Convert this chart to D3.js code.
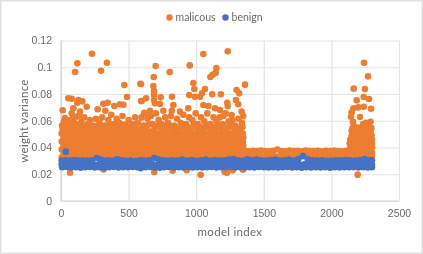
<!DOCTYPE html>
<html>
<head>
<meta charset="utf-8">
<script src="https://cdn.jsdelivr.net/npm/d3@7"></script>
<style>
  html, body { margin: 0; padding: 0; background: #fff; }
  svg { display: block; font-family: Lato, 'Open Sans', sans-serif; filter: blur(0.3px); }
</style>
</head>
<body>
<div id="chart"></div>
<script>
const xTicks = [0, 500, 1000, 1500, 2000, 2500];
const yTicks = [0, 0.02, 0.04, 0.06, 0.08, 0.1, 0.12];
const seriesNames = ["malicous", "benign"];
const seriesColors = ["#ed7d31", "#4472c4"];

// isolated malicious points read one by one
const maliciousUpper = [
  [229,.1101],[121,.1029],[104,.0964],[340,.1034],[296,.0974],[468,.0867],[587,.0877],[488,.0778],
  [592,.0748],[13,.0678],[54,.0768],[79,.0765],[128,.0755],[158,.0745],[120,.0735],[190,.0705],
  [271,.0686],[313,.0727],[345,.0735],[394,.071],[436,.0723],[461,.072],[328,.0675],[616,.066],
  [91,.0693],[79,.0656],[141,.0668],[116,.063],[30,.062],[1053,.1099],[1233,.1119],[700,.1009],
  [952,.1014],[804,.0964],[686,.0927],[1149,.0994],[1144,.0959],[1105,.0927],[1122,.0944],[592,.0875],
  [683,.086],[688,.0822],[979,.0882],[986,.0837],[1065,.0837],[1361,.087],[1299,.083],[1318,.0805],
  [949,.0792],[991,.078],[1028,.078],[1043,.0805],[1119,.0798],[1183,.0798],[821,.078],[597,.0748],
  [629,.0768],[688,.0793],[688,.0755],[695,.073],[737,.0775],[732,.0725],[757,.0675],[831,.0718],
  [819,.0675],[1053,.0718],[1090,.071],[1139,.0693],[1176,.068],[1230,.0735],[1233,.071],[1294,.0755],
  [1311,.0723],[1200,.0635],[1262,.0643],[1336,.0668],[1348,.0635],[941,.0693],[880,.0668],[658,.0675],
  [621,.0656]
];

// the loose part of the cloud just above the solid band
const maliciousMid = [
  [8,.0565],[22,.0595],[45,.0605],[60,.0575],[84,.0615],[98,.0585],[132,.0635],[150,.059],[172,.0625],
  [196,.0575],[214,.0605],[238,.0565],[258,.0615],[285,.0585],[305,.0625],[322,.0565],[350,.0605],[372,.0645],
  [388,.0575],[412,.0615],[430,.0585],[455,.0635],[478,.0565],[500,.0605],[526,.0575],[548,.0625],[570,.0585],
  [596,.0625],[612,.0565],[640,.0615],[665,.0635],[678,.0575],[702,.0655],[722,.0605],[745,.0575],[770,.0625],
  [792,.0585],[812,.0635],[838,.0565],[858,.0615],[885,.0585],[905,.0645],[925,.0575],[948,.0625],[972,.0605],
  [996,.0655],[1012,.0575],[1036,.0625],[1060,.0595],[1082,.0655],[1104,.0575],[1128,.0625],[1150,.0595],
  [1172,.0625],[1195,.0575],[1218,.0655],[1240,.0595],[1268,.0605],[1290,.0565],[1312,.0615],[1338,.0585],
  [12,.0535],[36,.0545],[70,.0535],[110,.0545],[142,.0535],[180,.0545],[225,.0535],[270,.0545],[300,.0535],
  [338,.0545],[400,.0535],[440,.0545],[490,.0535],[535,.0545],[585,.0535],[630,.0545],[690,.0535],[735,.0545],
  [780,.0535],[825,.0545],[870,.0535],[915,.0545],[960,.0535],[1005,.0545],[1050,.0535],[1095,.0545],[1140,.0535],
  [1185,.0545],[1230,.0535],[1275,.0545],[1325,.0535],
  [28,.0555],[52,.0552],[76,.0562],[92,.0548],[125,.0572],[160,.0558],[200,.0548],[248,.0552],[276,.0566],[312,.0548],
  [358,.0568],[378,.0545],[418,.0558],[462,.0572],[510,.0552],[552,.0568],[604,.0548],[650,.0572],[712,.0562],[758,.0552],
  [802,.0562],[850,.0548],[895,.0562],[938,.0552],[982,.0572],[1028,.0552],[1072,.0568],[1118,.0552],[1162,.0562],[1208,.0552],
  [1252,.0565],[1300,.0548],[1342,.0555],[58,.0518],[165,.052],[258,.052],[350,.052],[465,.052],[560,.052],[660,.052],
  [760,.052],[850,.052],[940,.052],[1030,.052],[1120,.052],[1210,.052],[1300,.052]
];

// solid band: too saturated to see single markers, read as rows and columns
const denseRows = [.0325,.0355,.0385,.0415,.0445,.0475,.0505];
const denseXa = [5,38,70,104,137,170,203,236,270,303,336,370,403,436,470,503,536,570,603,636,670,703,736,770,803,836,870,903,936,970,1003,1036,1070,1103,1136,1170,1203,1236,1270,1303,1325,1345];
const denseXb = [20,54,87,120,154,187,220,254,287,320,354,387,420,454,487,520,554,587,620,654,687,720,754,787,820,854,887,920,954,987,1020,1054,1087,1120,1154,1187,1220,1254,1287,1320,1348];

// flat stretch between the two active phases, top row wavers a little
const flatTop = [
  [1360,.0375],[1390,.0372],[1420,.0376],[1450,.0373],[1480,.0377],[1510,.0374],[1540,.0372],[1570,.0376],[1600,.0385],
  [1630,.0374],[1660,.0372],[1690,.0377],[1720,.0373],[1750,.0375],[1780,.0372],[1810,.0377],[1840,.0374],[1870,.0373],
  [1900,.0376],[1930,.0372],[1960,.0375],[1990,.0373],[2020,.0377],[2050,.0374],[2080,.0372],[2110,.0376],[2135,.0374]
];
const flatLow = [
  [1370,.0335],[1405,.0335],[1440,.0335],[1475,.0335],[1510,.0335],[1545,.0335],[1580,.0335],[1615,.0335],[1650,.0335],
  [1685,.0335],[1720,.0335],[1755,.0335],[1790,.0335],[1825,.0335],[1860,.0335],[1895,.0335],[1930,.0335],[1965,.0335],
  [2000,.0335],[2035,.0335],[2070,.0335],[2105,.0335],[2135,.0335]
];

// the burst at the end of the run
const maliciousSpike = [
  [2241,.1034],[2271,.0932],[2165,.084],[2248,.0837],[2239,.0778],[2278,.0763],[2187,.0753],[2293,.069],
  [2239,.0705],[2199,.07],[2163,.0693],[2150,.0663],[2145,.063],[2212,.0628],[2290,.0593],[2256,.0585],[2160,.0593],
  [2165,.056],[2200,.055],[2235,.0575],[2270,.056],[2296,.0545],[2150,.0525],[2185,.0525],[2220,.0535],[2255,.053],
  [2290,.052],[2150,.049],[2185,.0495],[2220,.05],[2255,.05],[2297,.049],[2140,.046],[2170,.046],[2205,.0465],
  [2240,.047],[2275,.0465],[2300,.046],[2135,.043],[2165,.043],[2200,.043],[2235,.043],[2270,.043],[2300,.043],
  [2140,.0395],[2175,.04],[2210,.04],[2245,.04],[2280,.04],[2300,.04],[2150,.036],[2190,.036],[2230,.036],[2270,.036],[2300,.036],
  [2157,.0545],[2182,.0505],[2218,.0515],[2252,.0545],[2278,.0505],[2152,.0475],[2188,.0478],[2222,.0482],[2258,.0482],[2288,.0478],
  [2152,.0445],[2185,.0445],[2220,.0448],[2255,.0448],[2288,.0445],[2150,.0412],[2182,.0415],[2218,.0415],[2252,.0415],[2288,.0415],
  [2165,.038],[2200,.038],[2238,.038],[2275,.038],[2298,.0335],[2160,.0335],[2195,.0335],[2235,.0335],[2270,.0335]
];

// orange points that poke out under the blue band
const maliciousLow = [
  [67,.0212],[690,.0217],[826,.0226],[930,.023],[1033,.0196],[1210,.0218],[1228,.0212],[1270,.0229],[1346,.0234],[2194,.0197],[315,.0235]
];

const benignRowTop = [
  [5,.0303],[35,.0305],[70,.0302],[100,.0306],[130,.0303],[160,.0305],[195,.0302],[228,.0304],[264,.0322],[290,.0312],[320,.0303],
  [350,.0305],[385,.0302],[415,.0312],[450,.0304],[480,.0301],[515,.0303],[550,.0299],[585,.0305],[615,.0303],[650,.0305],
  [690,.0322],[720,.0312],[755,.0305],[790,.0302],[825,.0305],[860,.0303],[895,.031],[930,.0303],[965,.0306],[1000,.0301],
  [1035,.0304],[1070,.0309],[1105,.0303],[1140,.0306],[1175,.0302],[1210,.0304],[1240,.0309],[1275,.0314],[1310,.0305],[1345,.0302],
  [1380,.0312],[1410,.0305],[1445,.031],[1480,.0305],[1515,.0303],[1550,.0306],[1585,.0309],[1615,.0303],[1650,.0305],[1685,.031],
  [1720,.0303],[1755,.0313],[1790,.0336],[1825,.0312],[1860,.0305],[1895,.0303],[1930,.0305],[1965,.0301],[2000,.0303],[2035,.0305],
  [2070,.0304],[2105,.0306],[2140,.0305],[2175,.0303],[2210,.0306],[2245,.0313],[2280,.0305],[2300,.0304]
];
const benignRowMid = [
  [5,.0275],[40,.0275],[80,.0275],[120,.0275],[160,.0275],[200,.0275],[240,.0275],[280,.0275],[320,.0275],[360,.0275],[400,.0275],
  [440,.0275],[480,.0275],[520,.0275],[560,.0275],[600,.0275],[640,.0275],[680,.0275],[720,.0275],[760,.0275],[800,.0275],[840,.0275],
  [880,.0275],[920,.0275],[960,.0275],[1000,.0275],[1040,.0275],[1080,.0275],[1120,.0275],[1160,.0275],[1200,.0275],[1240,.0275],
  [1280,.0275],[1320,.0275],[1360,.0275],[1400,.0275],[1440,.0275],[1480,.0275],[1520,.0275],[1560,.0275],[1600,.0275],[1640,.0275],
  [1680,.0275],[1720,.0275],[1760,.0275],[1800,.0275],[1840,.0275],[1880,.0275],[1920,.0275],[1960,.0275],[2000,.0275],[2040,.0275],
  [2080,.0275],[2120,.0275],[2160,.0275],[2200,.0275],[2240,.0275],[2280,.0275],[2300,.0275]
];
const benignRowLow = [
  [8,.0252],[42,.0254],[75,.025],[110,.0253],[145,.0249],[180,.0253],[215,.0254],[250,.0251],[285,.0252],[318,.0249],[355,.0253],
  [390,.0254],[425,.0251],[460,.0253],[495,.0252],[530,.0254],[565,.0253],[590,.0245],[625,.0252],[660,.0254],[695,.0251],[730,.0248],
  [765,.0253],[800,.0254],[835,.025],[870,.0253],[905,.0251],[940,.0254],[975,.0251],[1010,.0253],[1045,.025],[1080,.0253],[1115,.0254],
  [1150,.0251],[1185,.0253],[1220,.0252],[1255,.0254],[1290,.0251],[1325,.0253],[1360,.025],[1395,.0253],[1430,.0251],[1465,.0254],
  [1500,.0252],[1535,.025],[1570,.0253],[1605,.0251],[1640,.0253],[1675,.0254],[1710,.0251],[1745,.0252],[1780,.0249],[1815,.0253],
  [1850,.0251],[1885,.0253],[1920,.025],[1955,.0252],[1990,.0249],[2025,.0253],[2060,.0251],[2095,.0253],[2130,.0252],[2165,.0253],
  [2200,.0251],[2235,.0253],[2270,.0251],[2300,.0252]
];
const benignOutlier = [[35,.0369]];

const width = 423, height = 254;
const margin = { left: 61, right: 24, top: 40.5, bottom: 53 };

const svg = d3.select("#chart").append("svg")
  .attr("width", width)
  .attr("height", height);

// outer chart frame
svg.append("rect")
  .attr("x", 0.75).attr("y", 0.75)
  .attr("width", width - 1.5).attr("height", height - 1.5)
  .attr("fill", "#fff")
  .attr("stroke", "#e0e0e0")
  .attr("stroke-width", 1.5);

const x = d3.scaleLinear().domain([0, 2500]).range([margin.left, width - margin.right]);
const y = d3.scaleLinear().domain([0, 0.12]).range([height - margin.bottom, margin.top]);

const xAxis = svg.append("g")
  .attr("transform", `translate(0,${height - margin.bottom})`)
  .call(d3.axisBottom(x).tickValues(xTicks).tickFormat(String).tickSize(-(height - margin.top - margin.bottom)).tickPadding(9));

const yAxis = svg.append("g")
  .attr("transform", `translate(${margin.left},0)`)
  .call(d3.axisLeft(y).tickValues(yTicks).tickFormat(String).tickSize(-(width - margin.left - margin.right)).tickPadding(9));

[xAxis, yAxis].forEach(a => {
  a.select(".domain").remove();
  a.selectAll(".tick line").attr("stroke", "#e4e4e4").attr("stroke-width", 1.2);
  a.selectAll(".tick text").attr("fill", "#6b6b6b").attr("font-size", 10.5);
});

// axis lines are a bit darker than the grid
svg.append("line").attr("x1", x(0)).attr("x2", x(0)).attr("y1", y(0.12)).attr("y2", y(0))
  .attr("stroke", "#d4d4d4").attr("stroke-width", 1.2);
svg.append("line").attr("x1", x(0)).attr("x2", x(2500)).attr("y1", y(0)).attr("y2", y(0))
  .attr("stroke", "#d4d4d4").attr("stroke-width", 1.2);

const denseBand = [];
denseRows.forEach((v, i) => {
  (i % 2 ? denseXb : denseXa).forEach(d => denseBand.push([d, v]));
});

const malicious = [...denseBand, ...flatLow, ...flatTop, ...maliciousMid, ...maliciousUpper, ...maliciousSpike, ...maliciousLow];
const benign = [...benignRowLow, ...benignRowMid, ...benignRowTop, ...benignOutlier];

[malicious, benign].forEach((series, i) => {
  svg.append("g")
    .attr("fill", seriesColors[i])
    .selectAll("circle")
    .data(series)
    .join("circle")
    .attr("cx", d => x(d[0]))
    .attr("cy", d => y(d[1]))
    .attr("r", 3.3);
});

// axis titles
svg.append("text")
  .attr("x", 230).attr("y", 236)
  .attr("text-anchor", "middle")
  .attr("font-size", 11.5)
  .attr("fill", "#6b6b6b")
  .style("letter-spacing", "0.3px")
  .text("model index");

svg.append("text")
  .attr("transform", "translate(28,121) rotate(-90)")
  .attr("text-anchor", "middle")
  .attr("font-size", 11.5)
  .attr("fill", "#6b6b6b")
  .style("letter-spacing", "0.3px")
  .text("weight variance");

// legend
const legendX = [169.5, 225.5];
const legend = svg.append("g");
legend.selectAll("circle")
  .data(seriesNames)
  .join("circle")
  .attr("cx", (d, i) => legendX[i])
  .attr("cy", 17.5)
  .attr("r", 3.2)
  .attr("fill", (d, i) => seriesColors[i]);
legend.selectAll("text")
  .data(seriesNames)
  .join("text")
  .attr("x", (d, i) => legendX[i] + 6)
  .attr("y", 21)
  .attr("font-size", 10.5)
  .attr("fill", "#6b6b6b")
  .text(d => d);
</script>
</body>
</html>
